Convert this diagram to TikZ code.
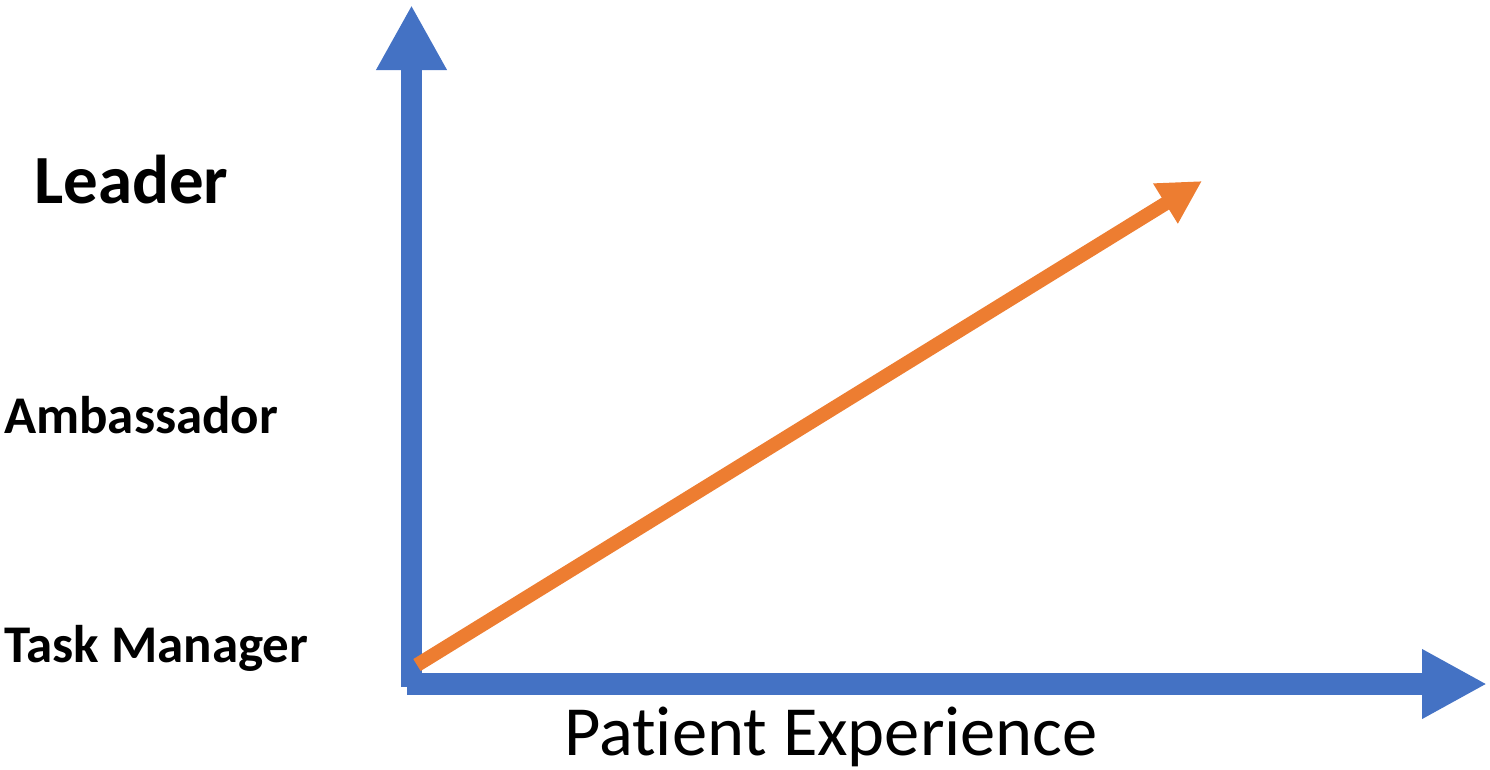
\documentclass[tikz,border=0pt]{standalone}
\usepackage{fontspec}
\setmainfont{Carlito}[Ligatures=NoCommon, RawFeature=-liga]
\usetikzlibrary{arrows.meta}
\definecolor{axisblue}{HTML}{4472C4}
\definecolor{trendorange}{HTML}{ED7D31}
\tikzset{
  axisline/.style={draw=axisblue, line width=21.5pt},
  trendline/.style={draw=trendorange, line width=14pt},
  lvl/.style={anchor=base west, inner sep=0pt, font=\bfseries\fontsize{53}{53}\selectfont},
}
\begin{document}
\begin{tikzpicture}[x=1pt,y=-1pt]
\useasboundingbox (0,0) rectangle (1490,769);
\coordinate (vbot) at (411.5,687);
\coordinate (vtop) at (411.5,5);
\coordinate (hleft) at (407,684);
\coordinate (hright) at (1487,684);
\coordinate (ostart) at (417,665);
\coordinate (oend) at (1202,181);
\draw[axisline, -{Triangle[length=65pt,width=66pt]}] (vbot) -- (vtop);
\draw[axisline, -{Triangle[length=65pt,width=65pt]}] (hleft) -- (hright);
\draw[trendline, -{Triangle[length=43pt,width=44pt]}] (ostart) -- (oend);
\node[lvl, font=\bfseries\fontsize{69}{69}\selectfont] (leader) at (34,203) {Leader};
\node[lvl] (amb) at (4,433) {Ambassador};
\node[lvl] (task) at (4,662) {Task Manager};
\node[anchor=base west, inner sep=0pt, text depth=10pt, font=\fontsize{70.5}{70.5}\selectfont] (px) at (564,755) {Patient Experience};
\end{tikzpicture}
\end{document}
